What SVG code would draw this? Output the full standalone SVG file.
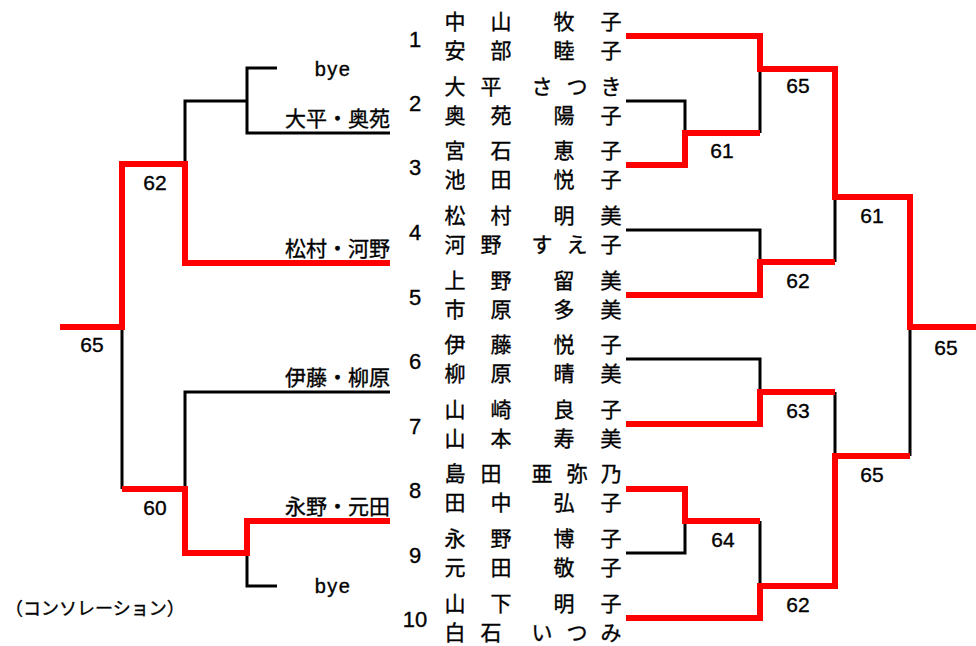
<svg xmlns="http://www.w3.org/2000/svg" width="976" height="646" viewBox="0 0 976 646">
<style>
.blk{stroke:#000;stroke-width:3;fill:none;stroke-linejoin:miter}
.red{stroke:#f00;stroke-width:6;fill:none;stroke-linejoin:miter}
text{fill:#000;stroke:#000;stroke-width:0.35}
.nm{font-family:"Noto Sans CJK JP","Noto Sans CJK SC",sans-serif;font-size:21px;text-anchor:middle}
.lb{font-family:"Noto Sans CJK JP","Noto Sans CJK SC",sans-serif;font-size:21px;text-anchor:end}
.num{font-family:"Liberation Sans",Arial,sans-serif;font-size:22px;text-anchor:middle}
.sc{font-family:"Liberation Sans",Arial,sans-serif;font-size:21px;text-anchor:middle}
.bye{font-family:"Liberation Sans",Arial,sans-serif;font-size:20px;letter-spacing:1.5px;text-anchor:middle}
.note{font-family:"Noto Sans CJK JP","Noto Sans CJK SC",sans-serif;font-size:18px}
</style>
<rect width="976" height="646" fill="#fff"/>
<g id="connectors">
<g class="blk">
<path d="M626,101 H685 V133"/>
<path d="M760,133 V69"/>
<path d="M626,230 H760 V262"/>
<path d="M835,262 V197"/>
<path d="M626,359 H760 V392"/>
<path d="M835,392 V456"/>
<path d="M910,456 V327"/>
<path d="M626,553 H685 V521"/>
<path d="M760,521 V586"/>
<path d="M277,68 H247 V133 H390"/>
<path d="M247,101 H185 V164"/>
<path d="M122,327 V489"/>
<path d="M390,392 H185 V489"/>
<path d="M247,553 V586 H277"/>
</g>
<g class="red">
<path d="M626,36 H760 V69 H835 V197 H910 V327 H976"/>
<path d="M626,165 H685 V133 H760"/>
<path d="M626,295 H760 V262 H835"/>
<path d="M626,424 H760 V392 H835"/>
<path d="M626,489 H685 V521 H760"/>
<path d="M626,618 H760 V586 H835 V456 H910"/>
<path d="M390,263 H185 V164 H122 V327 H60"/>
<path d="M390,521 H247 V553 H185 V489 H122"/>
</g>
</g>
<g id="team1"><text class="num" x="415" y="47">1</text><text class="nm" x="455 501 564 611" y="29">中山牧子</text><text class="nm" x="455 501 564 611" y="58">安部睦子</text></g>
<g id="team2"><text class="num" x="415" y="111">2</text><text class="nm" x="455 491 542 577 611" y="94">大平さつき</text><text class="nm" x="455 501 564 611" y="123">奥苑陽子</text></g>
<g id="team3"><text class="num" x="415" y="175">3</text><text class="nm" x="455 501 564 611" y="158">宮石恵子</text><text class="nm" x="455 501 564 611" y="187">池田悦子</text></g>
<g id="team4"><text class="num" x="415" y="240">4</text><text class="nm" x="455 501 564 611" y="223">松村明美</text><text class="nm" x="455 491 542 577 611" y="252">河野すえ子</text></g>
<g id="team5"><text class="num" x="415" y="305">5</text><text class="nm" x="455 501 564 611" y="288">上野留美</text><text class="nm" x="455 501 564 611" y="317">市原多美</text></g>
<g id="team6"><text class="num" x="415" y="369">6</text><text class="nm" x="455 501 564 611" y="352">伊藤悦子</text><text class="nm" x="455 501 564 611" y="381">柳原晴美</text></g>
<g id="team7"><text class="num" x="415" y="434">7</text><text class="nm" x="455 501 564 611" y="417">山崎良子</text><text class="nm" x="455 501 564 611" y="446">山本寿美</text></g>
<g id="team8"><text class="num" x="415" y="498">8</text><text class="nm" x="455 491 542 577 611" y="481">島田亜弥乃</text><text class="nm" x="455 501 564 611" y="510">田中弘子</text></g>
<g id="team9"><text class="num" x="415" y="563">9</text><text class="nm" x="455 501 564 611" y="546">永野博子</text><text class="nm" x="455 501 564 611" y="575">元田敬子</text></g>
<g id="team10"><text class="num" x="415" y="627">10</text><text class="nm" x="455 501 564 611" y="611">山下明子</text><text class="nm" x="455 491 542 577 611" y="640">白石いつみ</text></g>
<g id="scores-main">
<text class="sc" x="798" y="93">65</text>
<text class="sc" x="722" y="158">61</text>
<text class="sc" x="872" y="223">61</text>
<text class="sc" x="798" y="288">62</text>
<text class="sc" x="946" y="355">65</text>
<text class="sc" x="798" y="418">63</text>
<text class="sc" x="872" y="482">65</text>
<text class="sc" x="723" y="547">64</text>
<text class="sc" x="798" y="612">62</text>
</g>
<g id="cons-bye1"><text class="bye" x="333" y="76">bye</text></g>
<g id="cons-ohira"><text class="lb" x="390" y="126">大平・奥苑</text></g>
<g id="cons-matsumura"><text class="lb" x="390" y="256">松村・河野</text></g>
<g id="cons-ito"><text class="lb" x="390" y="385">伊藤・柳原</text></g>
<g id="cons-nagano"><text class="lb" x="390" y="514">永野・元田</text></g>
<g id="cons-bye2"><text class="bye" x="333" y="593">bye</text></g>
<g id="scores-cons">
<text class="sc" x="155" y="190">62</text>
<text class="sc" x="92" y="352">65</text>
<text class="sc" x="155" y="515">60</text>
</g>
<g id="caption"><text class="note" x="5" y="615">（コンソレーション）</text></g>
</svg>
